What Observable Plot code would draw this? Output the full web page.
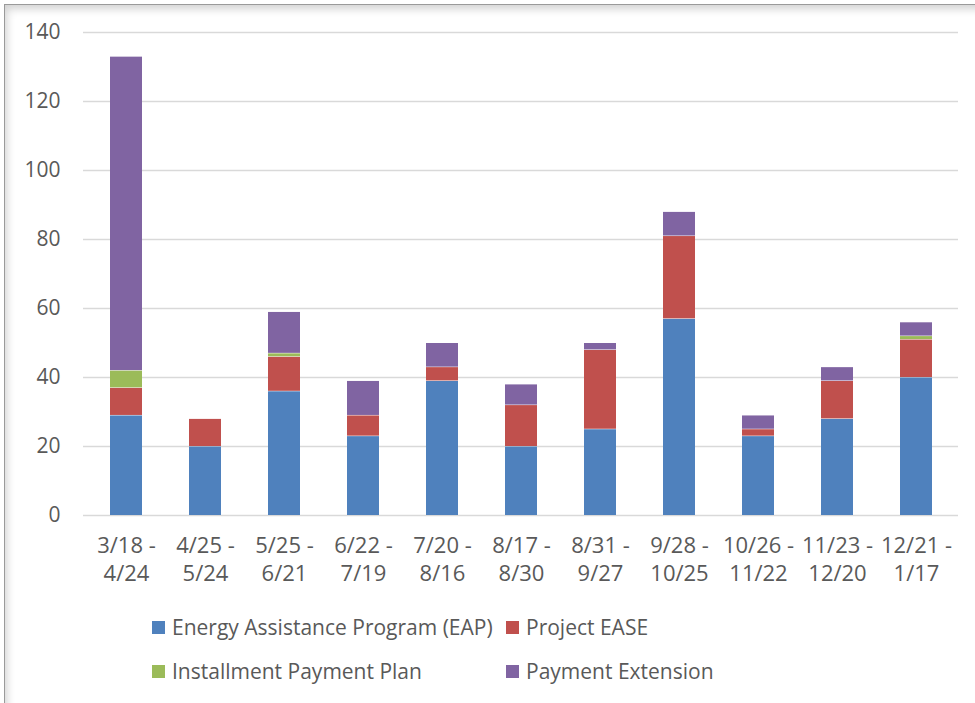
<!DOCTYPE html>
<html>
<head>
<meta charset="utf-8">
<script src="https://cdn.jsdelivr.net/npm/d3@7"></script>
<script src="https://cdn.jsdelivr.net/npm/@observablehq/plot@0.6"></script>
<style>
  html, body { margin: 0; padding: 0; background: #fff; }
  #frame {
    position: absolute; left: 4px; top: 4px; width: 975px; height: 699px;
    border-left: 1px solid #9a9a9a; border-top: 1px solid #9a9a9a;
    box-shadow: inset 6px 8px 8px -4px rgba(0,0,0,0.18);
    background: #fff;
  }
  #chart { position: absolute; left: 0; top: 0; }
  .legend { position: absolute; font-family: "Open Sans", Lato, sans-serif; font-size: 21px; color: #595959; }
  .item { position: absolute; white-space: nowrap; display: flex; align-items: center; }
  .sw { width: 13px; height: 13px; display: inline-block; margin-right: 7px; }
</style>
</head>
<body>
<div id="frame"></div>
<div id="chart"></div>
<div class="legend" id="legend"></div>
<script>
const periods = ["3/18 -\n4/24", "4/25 -\n5/24", "5/25 -\n6/21", "6/22 -\n7/19", "7/20 -\n8/16", "8/17 -\n8/30", "8/31 -\n9/27", "9/28 -\n10/25", "10/26 -\n11/22", "11/23 -\n12/20", "12/21 -\n1/17"];
const seriesNames = ["Energy Assistance Program (EAP)", "Project EASE", "Installment Payment Plan", "Payment Extension"];
const seriesColors = ["#4F81BD", "#C0504D", "#9BBB59", "#8064A2"];
const eap = [29, 20, 36, 23, 39, 20, 25, 57, 23, 28, 40];
const ease = [8, 8, 10, 6, 4, 12, 23, 24, 2, 11, 11];
const installment = [5, 0, 1, 0, 0, 0, 0, 0, 0, 0, 1];
const extension = [91, 0, 12, 10, 7, 6, 2, 7, 4, 4, 4];
const yTicks = [0, 20, 40, 60, 80, 100, 120, 140];

const seriesValues = [eap, ease, installment, extension];
const data = [];
seriesNames.forEach((s, si) => {
  periods.forEach((p, pi) => {
    data.push({period: p, series: s, value: seriesValues[si][pi]});
  });
});

const chart = Plot.plot({
  width: 975,
  height: 600,
  marginTop: 32,
  marginBottom: 85,
  marginLeft: 83,
  marginRight: 17,
  style: {fontFamily: "'Open Sans', Lato, sans-serif", fontSize: "22px", color: "#595959", background: "transparent"},
  x: {domain: periods, paddingInner: 0.6, paddingOuter: 0.3, label: null},
  y: {domain: [0, 140], label: null},
  color: {domain: seriesNames, range: seriesColors},
  marks: [
    Plot.gridY(yTicks, {stroke: "#d9d9d9", strokeOpacity: 1, strokeWidth: 1.5}),
    Plot.axisY(yTicks, {tickSize: 0, tickPadding: 23, label: null, fontSize: 21, fill: "#595959"}),
    Plot.axisX({tickSize: 0, tickPadding: 18, label: null, fontSize: 22, fill: "#595959", lineHeight: 1.27}),
    Plot.barY(data, Plot.stackY({x: "period", y: "value", fill: "series", order: seriesNames, insetLeft: 0, insetRight: 0, insetTop: 0.5, insetBottom: 0})),
  ]
});
document.getElementById("chart").appendChild(chart);

const legend = document.getElementById("legend");
const pos = [[152, 628], [506, 628], [152, 672], [506, 672]];
seriesNames.forEach((s, i) => {
  const d = document.createElement("div");
  d.className = "item";
  d.style.left = pos[i][0] + "px";
  d.style.top = (pos[i][1] - 15) + "px";
  d.innerHTML = `<span class="sw" style="background:${seriesColors[i]}"></span>${s}`;
  legend.appendChild(d);
});
</script>
</body>
</html>
